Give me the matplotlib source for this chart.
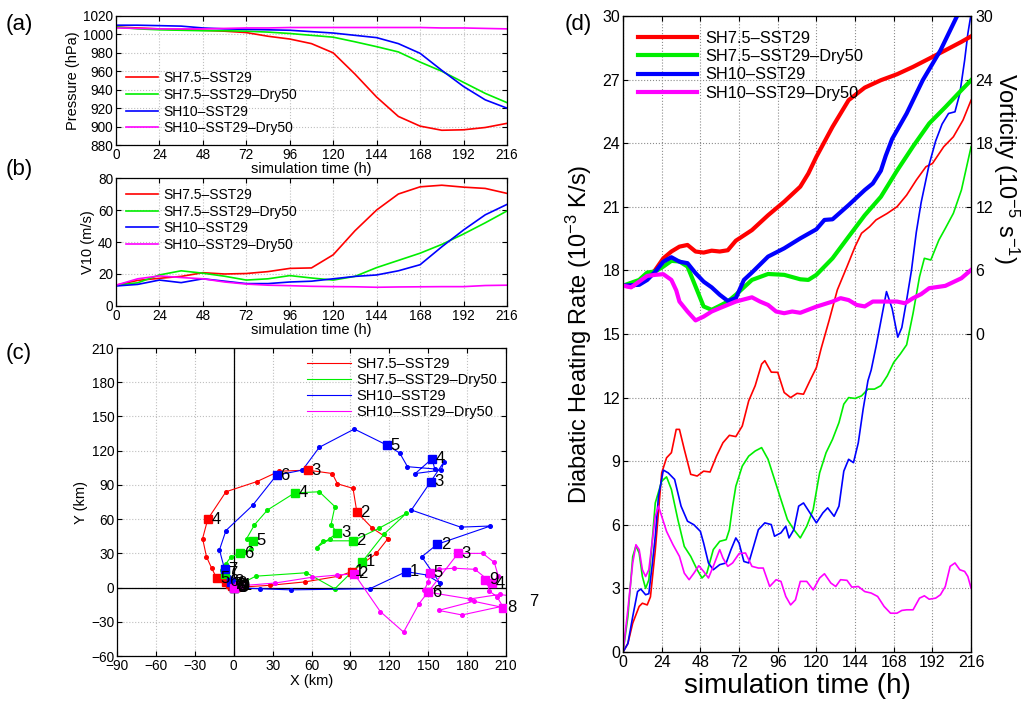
import matplotlib

matplotlib.use("Agg")
import matplotlib.pyplot as plt
import numpy as np

plt.rcParams["font.family"] = ["Liberation Sans", "DejaVu Sans"]
plt.rcParams["mathtext.fontset"] = "custom"
plt.rcParams["mathtext.rm"] = "Liberation Sans"
plt.rcParams["mathtext.default"] = "regular"

EXPERIMENTS = ["SH7.5–SST29", "SH7.5–SST29–Dry50", "SH10–SST29", "SH10–SST29–Dry50"]
COLORS = ["#ff0000", "#00ee00", "#0000ff", "#ff00ff"]

# (a), (b): 12-hourly series
HOURS_12 = np.arange(0, 217, 12)
pres_red = [1008, 1007, 1006, 1005, 1004.5, 1003.5, 1002, 998, 995, 990, 980, 957, 932,
            911, 900.5, 896, 896.5, 899, 903.5]
pres_green = [1008, 1006, 1005, 1004.5, 1004, 1004, 1003.5, 1002.5, 1001, 999, 997, 992,
              986.7, 981, 970, 960, 948, 936, 926]
pres_blue = [1010, 1010, 1009.5, 1009, 1007, 1006, 1005.5, 1005, 1004.5, 1003, 1001.5,
             999, 996.5, 990, 979.5, 961, 943.5, 929, 920]
pres_magenta = [1007, 1006.5, 1006, 1006, 1006, 1006.5, 1007, 1007, 1007.5, 1007.5, 1007.5,
                1007.5, 1007.5, 1007.5, 1007.5, 1007, 1007, 1006.5, 1006]

v10_red = [13, 16, 17.3, 18.5, 20.8, 20, 20.3, 21.5, 23.5, 23.8, 32, 47, 60, 70, 74.5, 75.5,
           74.3, 73.5, 70.4]
v10_green = [13, 14.5, 19.4, 22, 20.5, 18.6, 16.2, 17, 19, 17.5, 16.2, 18.5, 24, 28.5, 33,
             38.5, 45, 52, 59.4]
v10_blue = [12.5, 13.5, 16.2, 14.6, 17, 15.5, 14, 14, 15, 15.5, 17, 18.5, 19.4, 22, 25.8, 37,
            47.5, 57, 63.5]
v10_magenta = [13, 17, 18.8, 17.8, 17, 15, 13.7, 13, 12.7, 12.3, 12.1, 12, 11.7, 11.9, 12,
               12.1, 12.1, 12.8, 13]

# (c): 6-hourly storm-centre positions (km), a square every 24 h
track_red_x = [0, 28, 55, 81, 91, 110, 119, 107, 95, 92, 80, 76, 57, 35, 18, -6, -20, -24,
               -21, -17, -13, -10, -8, -7, -6, -5, -4, -3.5, -3, -2.5, -2, -1.5, -1, 0, 0.5,
               1, 1.5]
track_red_y = [0, 2, 5, 10, 14, 30, 43, 52, 66, 87, 91, 100, 103, 102, 93, 84, 60, 43, 27,
               17, 8, 7, 6, 5.5, 5, 4.5, 4, 3.5, 3, 2.5, 2, 2, 1.5, 1, 1, 0.5, 0.5]
track_green_x = [0, 17, 56, 78, 99, 116, 133, 112, 92, 69, 64, 74, 80, 75, 78, 66, 47, 26,
                 16, 10, 15, 13, 9, 7, 5, -2, -6, -9, -7, -5, -3, -1, 0, 1, 1.5, 2, 2]
track_green_y = [0, 10, 13, -1, 22.5, 47, 65, 52, 41, 41, 35, 43, 48, 55, 71, 84, 83, 68,
                 55, 43, 41, 34, 31, 30, 30, 27, 21, 15, 12, 9, 7, 5, 4, 3, 2, 1.5, 1]
track_blue_x = [0, 20, 44, 105, 133, 149, 159, 145, 157, 198, 175, 137, 152, 162, 160, 140,
                153, 155, 134, 128, 118, 93, 66, 53, 33, 14.5, -6, -11, -7, -5, -4, -3, -2,
                -1, 0, 1, 1]
track_blue_y = [0, -1, -2, -1, 14, 11, 4, 27, 38, 54, 53, 68, 93, 110, 103, 100, 113, 104,
                106, 118, 125, 139, 123, 103, 98.5, 72, 50, 33, 16, 12, 9, 7, 5, 4, 3, 2, 1.5]
track_magenta_x = [0, 1, 2, 3, 4, 32, 60, 80, 93, 113, 131, 143, 173, 192, 201, 204, 199,
                   186, 170, 158, 151.5, 150, 147, 148, 150, 182, 205, 218, 225, 176, 158,
                   185, 208, 203, 197, 196, 194]
track_magenta_y = [0, 0.5, 1, 1, 1.5, 4, 9, 11, 12, -21, -39, -14, 30, 30, 22, 10, 4, 16,
                   17, 16, 13, 5, -2, -4, -4, -10, -6, -8, -12, -24, -20, -12, -17.5, -8, -3,
                   4, 7]

# (d): vorticity (1e-5 s-1, right axis)
vort_red_t = [0, 5, 10, 15, 20, 25, 30, 35, 40, 45, 50, 55, 60, 65, 70, 80, 90, 100, 110,
              115, 120, 130, 140, 150, 160, 170, 180, 190, 200, 210, 216]
vort_red = [4.56, 4.48, 4.8, 5.26, 6.04, 7.14, 7.78, 8.24, 8.4, 7.78, 7.68, 7.86, 7.78, 7.9,
            8.8, 9.8, 11.2, 12.48, 13.9, 15.14, 16.72, 19.54, 22.06, 23.24, 23.94, 24.5, 25.2,
            25.98, 26.76, 27.56, 28.08]
vort_green_t = [0, 10, 15, 20, 25, 30, 35, 40, 45, 50, 55, 60, 65, 70, 80, 90, 100, 110, 115,
                120, 130, 140, 150, 160, 170, 180, 190, 200, 210, 216]
vort_green = [4.56, 5.1, 5.8, 5.9, 6.36, 6.9, 6.84, 6.36, 4.48, 2.6, 2.28, 2.66, 3.06, 3.7,
              5.1, 5.66, 5.58, 5.16, 5.1, 5.58, 7.14, 9.18, 11.2, 12.94, 15.4, 17.7, 19.86,
              21.4, 23.0, 23.94]
vort_blue_t = [0, 10, 15, 20, 25, 30, 35, 40, 45, 50, 55, 60, 65, 70, 75, 80, 90, 100, 110,
               120, 125, 130, 140, 150, 155, 160, 163, 167, 176, 186, 197, 207, 216]
vort_blue = [4.56, 4.64, 5.1, 5.88, 6.82, 7.24, 6.82, 6.68, 5.74, 4.94, 4.4, 3.7, 3.12, 3.38,
             5.1, 5.8, 7.3, 8.08, 9.02, 9.88, 10.76, 10.82, 12.16, 13.58, 14.2, 15.4, 16.8,
             18.4, 20.8, 23.94, 26.76, 29.9, 32.4]
vort_magenta_t = [0, 5, 10, 15, 20, 25, 30, 33, 35, 40, 45, 50, 55, 60, 70, 80, 85, 90, 95,
                  100, 105, 110, 120, 130, 135, 140, 145, 150, 155, 160, 170, 175, 180, 185,
                  190, 200, 210, 216]
vort_magenta = [4.56, 4.4, 4.94, 5.48, 5.58, 5.64, 5.1, 4.12, 3.06, 2.12, 1.28, 1.64, 2.12,
                2.44, 3.06, 3.46, 3.06, 2.74, 2.12, 1.96, 2.12, 2.0, 2.58, 3.06, 3.38, 3.2,
                2.74, 2.6, 3.06, 3.06, 3.06, 2.9, 3.38, 3.76, 4.32, 4.54, 5.26, 6.04]

# (d): diabatic heating rate (1e-3 K/s, left axis)
heat_red_t = [0, 3, 6, 10, 12, 15, 17, 20, 24, 27, 30, 33, 35, 38, 42, 46, 50, 54, 58, 62,
              66, 70, 74, 78, 82, 86, 88, 92, 96, 100, 104, 108, 112, 116, 120, 123, 128, 133,
              139, 144, 148, 153, 157, 164, 170, 176, 182, 188, 192, 199, 205, 211, 216]
heat_red = [0, 0.4, 1.36, 2.15, 2.3, 2.22, 2.6, 4.8, 8.45, 9.16, 9.4, 10.5, 10.5, 9.56, 8.38,
            8.3, 8.53, 8.49, 9.24, 9.87, 10.22, 10.16, 10.66, 11.85, 12.56, 13.58, 13.74, 13.2,
            13.19, 12.24, 12.0, 12.2, 12.16, 12.8, 13.42, 14.33, 15.67, 17.08, 18.18, 19.12,
            19.75, 20.06, 20.38, 20.69, 21.0, 21.55, 22.26, 22.89, 23.04, 23.83, 24.3, 25.09,
            26.03]
heat_green_t = [0, 3, 6, 8, 10, 12, 14, 16, 18, 20, 24, 27, 30, 34, 38, 42, 46, 49, 52, 56,
                60, 64, 66, 68, 70, 74, 78, 82, 86, 90, 94, 98, 102, 106, 110, 114, 118, 122,
                126, 130, 134, 137, 140, 144, 148, 152, 156, 160, 164, 168, 172, 176, 180, 184,
                187, 191, 196, 200, 205, 210, 216]
heat_green = [0, 1.67, 4.5, 5.0, 4.67, 3.56, 3.0, 3.4, 5.14, 7.03, 8.06, 8.26, 7.67, 6.25,
              4.98, 4.51, 3.88, 3.49, 3.72, 4.83, 5.22, 5.3, 5.77, 6.88, 7.82, 8.77, 9.24,
              9.48, 9.64, 9.09, 8.14, 7.19, 6.25, 5.77, 5.38, 5.93, 6.72, 8.45, 9.4, 10.03,
              10.82, 11.69, 12.0, 11.96, 12.08, 12.4, 12.4, 12.56, 13.03, 13.66, 14.05, 14.49,
              15.98, 17.7, 18.57, 18.49, 19.43, 19.98, 20.69, 21.79, 23.83]
heat_blue_t = [0, 3, 6, 9, 11, 14, 16, 18, 20, 22, 25, 28, 32, 36, 40, 44, 48, 50, 53, 56,
               60, 64, 67, 70, 72, 75, 78, 81, 84, 88, 92, 94, 98, 101, 103, 106, 109, 112,
               116, 120, 124, 127, 131, 134, 137, 140, 143, 146, 149, 152, 154, 157, 160,
               163.5, 167, 170.5, 173, 176, 179, 182, 185, 190, 194, 198, 202, 206, 209, 212,
               214, 216]
heat_blue = [0, 0.4, 1.67, 2.85, 2.97, 2.7, 2.75, 4.04, 5.46, 7.35, 8.58, 8.45, 8.14, 6.88,
             6.17, 6.0, 5.69, 5.14, 4.2, 3.88, 4.12, 4.2, 4.83, 5.38, 5.14, 4.27, 4.2, 4.98,
             5.77, 6.09, 6.01, 5.46, 5.62, 5.93, 5.38, 5.77, 6.88, 7.03, 6.56, 6.09, 6.56, 6.8,
             6.4, 6.88, 8.53, 9.09, 8.93, 9.87, 11.45, 12.8, 13.3, 14.4, 15.6, 17.0, 16.2,
             14.85, 15.3, 16.6, 18.0, 19.8, 21.2, 23.0, 24.1, 24.9, 25.4, 25.48, 26.34, 27.91,
             29.17, 30.1]
heat_magenta_t = [0, 3, 6, 8, 10, 12, 14, 16, 18, 20, 22, 24, 27, 31, 35, 38, 41, 44, 47, 50,
                  53, 56, 60, 62, 65, 68, 72, 76, 80, 84, 87, 91, 95, 98, 101, 104, 107, 110,
                  114, 118, 122, 125, 129, 132, 135, 139, 142, 146, 150, 154, 158, 162, 166,
                  170, 173, 176, 180, 184, 187, 190, 194, 197, 200, 203, 206, 209, 212, 214,
                  216]
heat_magenta = [0, 2, 4.2, 5.06, 4.83, 3.88, 3.56, 3.88, 5.14, 6.4, 6.88, 6.4, 5.69, 5.06,
                4.51, 3.72, 3.41, 3.72, 4.07, 3.8, 3.49, 4.04, 4.83, 4.43, 4.04, 4.2, 4.64,
                4.67, 4.04, 3.96, 3.96, 3.09, 3.41, 3.33, 2.62, 2.22, 2.46, 3.33, 3.33, 2.93,
                3.49, 3.69, 3.25, 3.09, 3.41, 3.38, 3.06, 3.09, 2.85, 2.78, 2.62, 2.15, 1.83,
                1.83, 1.96, 1.99, 1.99, 2.54, 2.65, 2.49, 2.54, 2.7, 3.09, 4.04, 4.2, 3.88, 3.8,
                3.56, 3.01]

TIME_TICKS = np.arange(0, 217, 24)
TICK_FS = 9.8


def style_axes(ax, fs=TICK_FS, grid_color="0.75"):
    ax.tick_params(direction="in", top=True, right=True, labelsize=fs, length=3.5,
                   width=0.8, pad=2)
    ax.grid(True, linestyle=":", color=grid_color, linewidth=0.8)
    ax.set_axisbelow(True)
    for spine in ax.spines.values():
        spine.set_linewidth(0.9)


fig = plt.figure(figsize=(10.3, 7.07), dpi=100)

# (a) minimum sea-level pressure
ax_a = fig.add_axes([0.1126, 0.7949, 0.3796, 0.1825])
for series, color, name in zip([pres_red, pres_green, pres_blue, pres_magenta], COLORS,
                               EXPERIMENTS):
    ax_a.plot(HOURS_12, series, color=color, linewidth=1.2, label=name)
ax_a.set_xlim(0, 216)
ax_a.set_ylim(880, 1020)
ax_a.set_xticks(TIME_TICKS)
ax_a.set_yticks(np.arange(880, 1021, 20))
ax_a.set_xlabel("simulation time (h)", fontsize=10.5, labelpad=0)
ax_a.set_ylabel("Pressure (hPa)", fontsize=10.5, labelpad=2)
style_axes(ax_a)
ax_a.legend(loc="lower left", frameon=False, fontsize=10, handlelength=2.3,
            labelspacing=0.2, borderaxespad=0.3, handletextpad=0.4)

# (b) maximum 10-m wind
ax_b = fig.add_axes([0.1126, 0.5672, 0.3796, 0.1810])
for series, color, name in zip([v10_red, v10_green, v10_blue, v10_magenta], COLORS,
                               EXPERIMENTS):
    ax_b.plot(HOURS_12, series, color=color, linewidth=1.2, label=name)
ax_b.set_xlim(0, 216)
ax_b.set_ylim(0, 80)
ax_b.set_xticks(TIME_TICKS)
ax_b.set_yticks(np.arange(0, 81, 20))
ax_b.set_xlabel("simulation time (h)", fontsize=10.5, labelpad=0)
ax_b.set_ylabel("V10 (m/s)", fontsize=10.5, labelpad=2)
style_axes(ax_b)
ax_b.legend(loc="upper left", frameon=False, fontsize=10, handlelength=2.3,
            labelspacing=0.2, borderaxespad=0.3, handletextpad=0.4)

# (c) storm tracks
ax_c = fig.add_axes([0.1136, 0.0721, 0.3777, 0.4356])
ax_c.axhline(0, color="black", linewidth=0.9, zorder=1)
ax_c.axvline(0, color="black", linewidth=0.9, zorder=1)
tracks = [(track_red_x, track_red_y), (track_green_x, track_green_y),
          (track_blue_x, track_blue_y), (track_magenta_x, track_magenta_y)]
for (tx, ty), color, name in zip(tracks, COLORS, EXPERIMENTS):
    tx = np.asarray(tx, dtype=float)
    ty = np.asarray(ty, dtype=float)
    ax_c.plot(tx, ty, color=color, linewidth=0.8, label=name, zorder=2)
    ax_c.plot(tx, ty, linestyle="none", marker="o", markersize=2.6, color=color, zorder=2)
    ax_c.plot(tx[::4], ty[::4], linestyle="none", marker="s", markersize=5.8, color=color,
              zorder=3)
for (tx, ty), color in zip(tracks, COLORS):
    for day, (x, y) in enumerate(zip(tx[::4], ty[::4])):
        ax_c.annotate(str(day), (x, y), xytext=(2.5, 0), textcoords="offset points",
                      va="center", ha="left", fontsize=12, annotation_clip=False,
                      zorder=4)
ax_c.set_xlim(-90, 210)
ax_c.set_ylim(-60, 210)
ax_c.set_xticks(np.arange(-90, 211, 30))
ax_c.set_yticks(np.arange(-60, 211, 30))
ax_c.set_xlabel("X (km)", fontsize=10.5, labelpad=1)
ax_c.set_ylabel("Y (km)", fontsize=10.5, labelpad=2)
style_axes(ax_c)
ax_c.legend(loc="upper right", frameon=False, fontsize=10.5, handlelength=3.0,
            labelspacing=0.15, borderaxespad=0.2, handletextpad=0.4)

# (d) diabatic heating (thin) and vorticity (thick)
ax_d = fig.add_axes([0.6049, 0.0778, 0.3379, 0.8996])
heating = [(heat_red_t, heat_red), (heat_green_t, heat_green), (heat_blue_t, heat_blue),
           (heat_magenta_t, heat_magenta)]
for (t, v), color in zip(heating, COLORS):
    ax_d.plot(t, v, color=color, linewidth=1.2)
ax_d.set_xlim(0, 216)
ax_d.set_ylim(0, 30)
ax_d.set_xticks(TIME_TICKS)
ax_d.set_yticks(np.arange(0, 31, 3))
style_axes(ax_d, fs=11.5, grid_color="0.55")
ax_d.set_xlabel("simulation time (h)", fontsize=20, labelpad=2)
ax_d.set_ylabel("Diabatic Heating Rate (10$^{-3}$ K/s)", fontsize=17, labelpad=6)

ax_v = ax_d.twinx()
vorticity = [(vort_red_t, vort_red), (vort_green_t, vort_green), (vort_blue_t, vort_blue),
             (vort_magenta_t, vort_magenta)]
for (t, v), color, name in zip(vorticity, COLORS, EXPERIMENTS):
    ax_v.plot(t, v, color=color, linewidth=3.0, label=name)
ax_v.set_xlim(0, 216)
ax_v.set_ylim(-30, 30)
ax_v.set_yticks(np.arange(0, 31, 6))
ax_v.tick_params(direction="in", labelsize=11.5, length=3.5, width=0.8, pad=3)
ax_v.set_ylabel("Vorticity (10$^{-5}$ s$^{-1}$)", fontsize=17, rotation=270, labelpad=20,
                y=0.76)
ax_v.legend(loc="upper left", frameon=False, fontsize=11.8, handlelength=3.6,
            labelspacing=0.2, borderaxespad=0.5, handletextpad=0.5)

for label, (x, y) in zip(["(a)", "(b)", "(c)", "(d)"],
                         [(0.005, 0.965), (0.005, 0.76), (0.005, 0.50), (0.548, 0.965)]):
    fig.text(x, y, label, fontsize=16, ha="left", va="center")

fig.savefig("out.png", dpi=100)
